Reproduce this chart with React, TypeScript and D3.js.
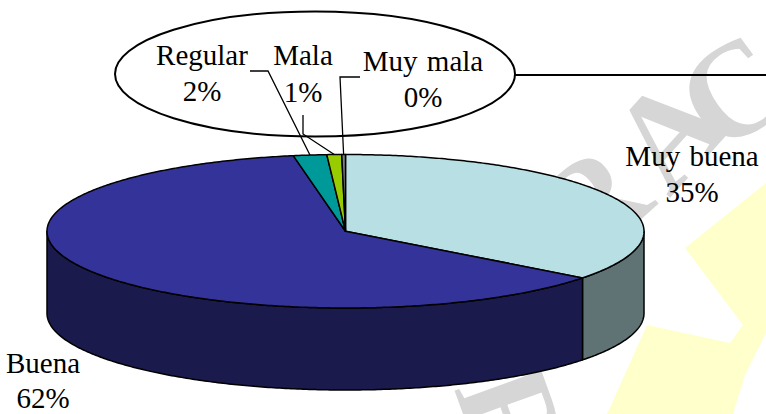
import React from "react";
import * as d3 from "d3";

const categories = ["Muy buena", "Buena", "Regular", "Mala", "Muy mala"];
const values = [35.4, 61.8, 1.8, 0.8, 0.2];
const topColors = ["#b8e0e4", "#333399", "#009999", "#99cc00", "#808080"];
const sideColors = ["#5f7274", "#1a1a4d", "#004d4d", "#4d6600", "#404040"];

const W = 766, H = 414;
const SERIF = "'Liberation Serif','Times New Roman',serif";
const px = d3.scaleLinear().domain([-1, 1]).range([47, 644]);
const py = d3.scaleLinear().domain([-1, 1]).range([154.5, 308]);
const DEPTH = 82;

const arcs = d3.pie<number>().sort(null).value((d) => d)(values);
const rim = (a: number): [number, number] => [px(Math.sin(a)), py(-Math.cos(a))];
const sample = (a0: number, a1: number) => {
  const n = Math.max(2, Math.ceil((a1 - a0) / 0.01));
  return d3.range(n + 1).map((i) => rim(a0 + ((a1 - a0) * i) / n));
};
const line = d3.line<[number, number]>();
const topPath = (a0: number, a1: number) =>
  line([[px(0), py(0)], ...sample(a0, a1)]) + "Z";
const sidePath = (a0: number, a1: number) => {
  const lo = Math.max(a0, Math.PI / 2), hi = Math.min(a1, (3 * Math.PI) / 2);
  if (hi <= lo) return null;
  const t = sample(lo, hi);
  const b = t.map(([x, y]) => [x, y + DEPTH] as [number, number]).reverse();
  return line([...t, ...b]) + "Z";
};
const pct = d3.format(".0f");

const labelPos = [
  { x: 692, y: 166, dy: 36 },
  { x: 43, y: 373, dy: 35 },
  { x: 202, y: 65, dy: 36 },
  { x: 303, y: 65, dy: 37 },
  { x: 423, y: 71, dy: 36 },
];
const elbows: ([number, number][] | null)[] = [
  null,
  null,
  [[250, 71], [268, 71]],
  [[303, 115], [303, 134]],
  [[360, 77], [340, 77]],
];

const watermark = [
  { t: "R", x: 591, y: 203, r: -42 },
  { t: "A", x: 668, y: 132, r: -48 },
  { t: "C", x: 733, y: 91, r: -35 },
  { t: "R", x: 513, y: 418, r: 70 },
];

export default function App() {
  return (
    <svg width={W} height={H} style={{ position: "fixed", left: 0, top: 0, background: "#fff" }}>
      <path
        d="M766,183L685,248L743,325L730,343L647,325L607,414L733,414L745,375L766,333Z"
        fill="#ffffcc"
      />
      {watermark.map((w, i) => (
        <text key={i} x={w.x} y={w.y} textAnchor="middle" dominantBaseline="central" fontWeight="bold"
          transform={`rotate(${w.r} ${w.x} ${w.y})`} fontFamily={SERIF} fontSize={135} fill="#d6d6d6">
          {w.t}
        </text>
      ))}
      {arcs.map((a, i) => {
        const d = sidePath(a.startAngle, a.endAngle);
        return d ? <path key={i} d={d} fill={sideColors[i]} stroke="#000" strokeWidth={1.5} strokeLinejoin="round" /> : null;
      })}
      {arcs.map((a, i) => (
        <path key={i} d={topPath(a.startAngle, a.endAngle)} fill={topColors[i]} stroke="#000" strokeWidth={1.5} strokeLinejoin="round" />
      ))}
      <ellipse cx={315} cy={74} rx={200} ry={62.5} fill="none" stroke="#000" strokeWidth={2} />
      <line x1={515} y1={75} x2={766} y2={75} stroke="#000" strokeWidth={2} />
      {arcs.map((a, i) => {
        const e = elbows[i];
        if (!e) return null;
        const m = rim((a.startAngle + a.endAngle) / 2);
        return <path key={i} d={line([...e, m]) as string} fill="none" stroke="#000" strokeWidth={1.3} />;
      })}
      {categories.map((c, i) => (
        <text key={c} textAnchor="middle" fontFamily={SERIF} fontSize={29} wordSpacing={2} fill="#000">
          <tspan x={labelPos[i].x} y={labelPos[i].y}>{c}</tspan>
          <tspan x={labelPos[i].x} y={labelPos[i].y + labelPos[i].dy}>{pct(values[i])}%</tspan>
        </text>
      ))}
    </svg>
  );
}
